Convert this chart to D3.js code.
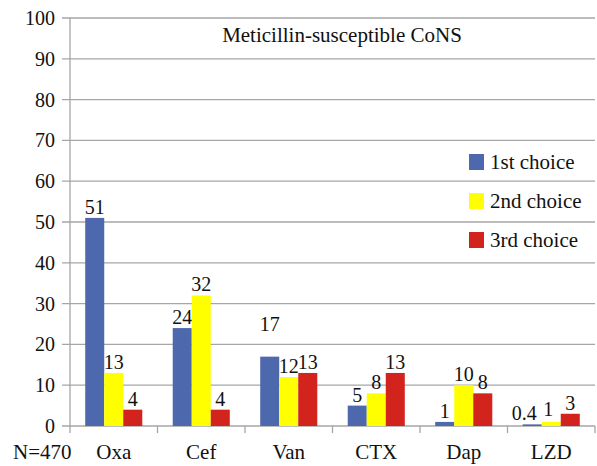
<!DOCTYPE html>
<html><head><meta charset="utf-8">
<script src="https://cdn.jsdelivr.net/npm/d3@7"></script>
<style>body{margin:0;background:#fff}svg{display:block}</style>
</head><body><svg id="c" width="597" height="466"></svg>
<script>
const categories = ["Oxa","Cef","Van","CTX","Dap","LZD"];
const seriesNames = ["1st choice","2nd choice","3rd choice"];
const first  = [51,24,17,5,1,0.4];
const second = [13,32,12,8,10,1];
const third  = [4,4,13,13,8,3];
const yTicks = [0,10,20,30,40,50,60,70,80,90,100];
const title = "Meticillin-susceptible CoNS";
const nLabel = "N=470";
const colors = ["#4e68ae","#ffff00","#d2231d"];

const series = [first, second, third];
const svg = d3.select("#c");
const FONT = "'Liberation Serif', 'Times New Roman', serif";
const L = 70, R = 595, T = 18, B = 426;
const x = d3.scaleBand().domain(categories).range([L, R]).paddingInner(0).paddingOuter(0);
const xs = d3.scaleBand().domain(seriesNames).range([0, x.bandwidth()]).paddingInner(0).paddingOuter(0.8);
const y = d3.scaleLinear().domain([0,100]).range([B, T]);

function st(sel, size){ return sel.style("font-family", FONT).style("font-size", size+"px").style("fill", "#111"); }

svg.append("g").selectAll("line").data(yTicks).join("line")
  .attr("x1", L-8).attr("x2", R).attr("y1", d=>y(d)).attr("y2", d=>y(d))
  .attr("stroke", "#a6a6a6").attr("stroke-width", 1.3);
svg.append("line").attr("x1", L).attr("x2", L).attr("y1", T).attr("y2", B+1)
  .attr("stroke", "#a6a6a6").attr("stroke-width", 1.3);
st(svg.append("g").selectAll("text").data(yTicks).join("text")
  .attr("x", 55).attr("y", d=>y(d)+7).attr("text-anchor","end").text(d=>d), 20);
const bounds = categories.map(c=>x(c)).concat([R]);
svg.append("g").selectAll("line").data(bounds).join("line")
  .attr("x1", d=>d).attr("x2", d=>d).attr("y1", B).attr("y2", B+7)
  .attr("stroke", "#a6a6a6").attr("stroke-width", 1.3);
st(svg.append("g").selectAll("text").data(categories).join("text")
  .attr("x", d=>x(d)+x.bandwidth()/2).attr("y", 459).attr("text-anchor","middle").text(d=>d), 21);
st(svg.append("text").attr("x", 13).attr("y", 459).text(nLabel), 21);

// small label nudges (dx, lift) to mimic the original's label placement
const nudge = {"Van|0": [0, 22], "LZD|0": [-8, 0], "LZD|1": [-3, 2]};
series.forEach((vals, si) => {
  const g = svg.append("g");
  g.selectAll("rect").data(vals).join("rect")
    .attr("x", (d,i)=>x(categories[i]) + xs(seriesNames[si]))
    .attr("width", xs.bandwidth())
    .attr("y", d=>y(d)).attr("height", d=>B - y(d))
    .attr("fill", colors[si]);
  st(g.selectAll("text").data(vals).join("text")
    .attr("x", (d,i)=>x(categories[i]) + xs(seriesNames[si]) + xs.bandwidth()/2 + ((nudge[categories[i]+"|"+si]||[0,0])[0]))
    .attr("y", (d,i)=>y(d) - 4 - ((nudge[categories[i]+"|"+si]||[0,0])[1]))
    .attr("text-anchor","middle").text(d=>d), 20);
});

st(svg.append("text").attr("x", 342).attr("y", 42).attr("text-anchor","middle").text(title), 21);

seriesNames.forEach((s, i) => {
  const yy = 154 + i*39;
  svg.append("rect").attr("x", 469).attr("y", yy).attr("width", 15).attr("height", 16).attr("fill", colors[i]);
  st(svg.append("text").attr("x", 490).attr("y", yy+15).text(s), 21);
});
</script></body></html>
